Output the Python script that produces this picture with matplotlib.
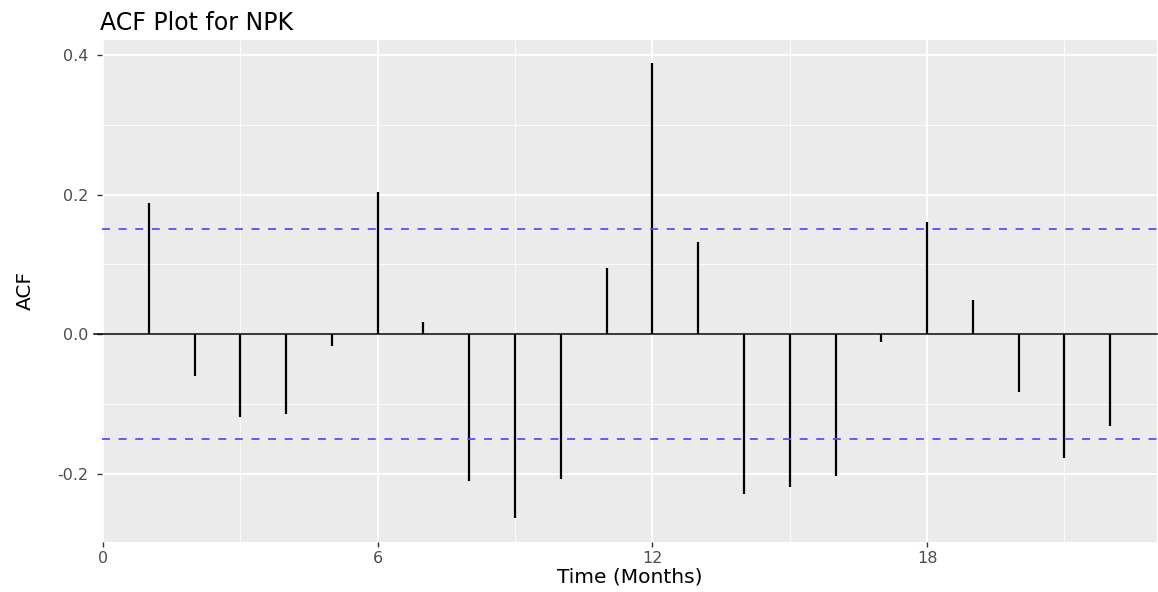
import matplotlib
matplotlib.use("Agg")
import matplotlib.pyplot as plt
from matplotlib.ticker import MultipleLocator

# Autocorrelation of the NPK series by lag (months)
lags = list(range(1, 23))
acf_values = [0.188, -0.060, -0.119, -0.115, -0.017, 0.204, 0.017, -0.211,
              -0.264, -0.208, 0.095, 0.389, 0.132, -0.229, -0.219, -0.204,
              -0.011, 0.161, 0.049, -0.083, -0.178, -0.132]
conf_limit = 0.151

x_ticks = [0, 6, 12, 18]
y_ticks = [-0.2, 0.0, 0.2, 0.4]
y_tick_labels = ["-0.2", "0.0", "0.2", "0.4"]

plt.rcParams["font.family"] = ["DejaVu Sans"]

fig = plt.figure(figsize=(11.58, 5.92), dpi=100)
ax = fig.add_axes([0.0881, 0.0845, 0.9110, 0.8479])
ax.set_facecolor("#EBEBEB")

# ggplot-like grid
ax.set_xticks(x_ticks)
ax.xaxis.set_minor_locator(MultipleLocator(3))
ax.set_yticks(y_ticks)
ax.set_yticklabels(y_tick_labels)
ax.yaxis.set_minor_locator(MultipleLocator(0.1))
ax.grid(which="major", color="white", linewidth=1.3)
ax.grid(which="minor", color="white", linewidth=0.6)
ax.set_axisbelow(True)
for s in ax.spines.values():
    s.set_visible(False)

ax.set_xlim(-0.02, 23.02)
ax.set_ylim(-0.298, 0.4215)

# zero line, ACF spikes and confidence bounds
ax.plot([-0.2, 23.02], [0, 0], color="black", linewidth=1.1, clip_on=False)
ax.vlines(lags, 0, acf_values, color="black", linewidth=1.6)
for bound in (conf_limit, -conf_limit):
    ax.axhline(bound, color="#5050FF", linewidth=1.3, linestyle=(0, (4.4, 4.8)))

ax.tick_params(axis="y", which="major", pad=6)
ax.tick_params(axis="x", which="major", pad=3)
ax.tick_params(axis="both", which="major", length=3.7, width=1.0,
               color="#333333", labelcolor="#4D4D4D", labelsize=11.5)
ax.tick_params(axis="both", which="minor", length=0)

ax.set_xlabel("Time (Months)", fontsize=14.5, color="black", labelpad=1)
ax.set_ylabel("ACF", fontsize=14.5, color="black", labelpad=16)
ax.set_title("ACF Plot for NPK", fontsize=17, color="black", loc="left", pad=7, x=-0.002)

fig.savefig("out.png", dpi=100)
